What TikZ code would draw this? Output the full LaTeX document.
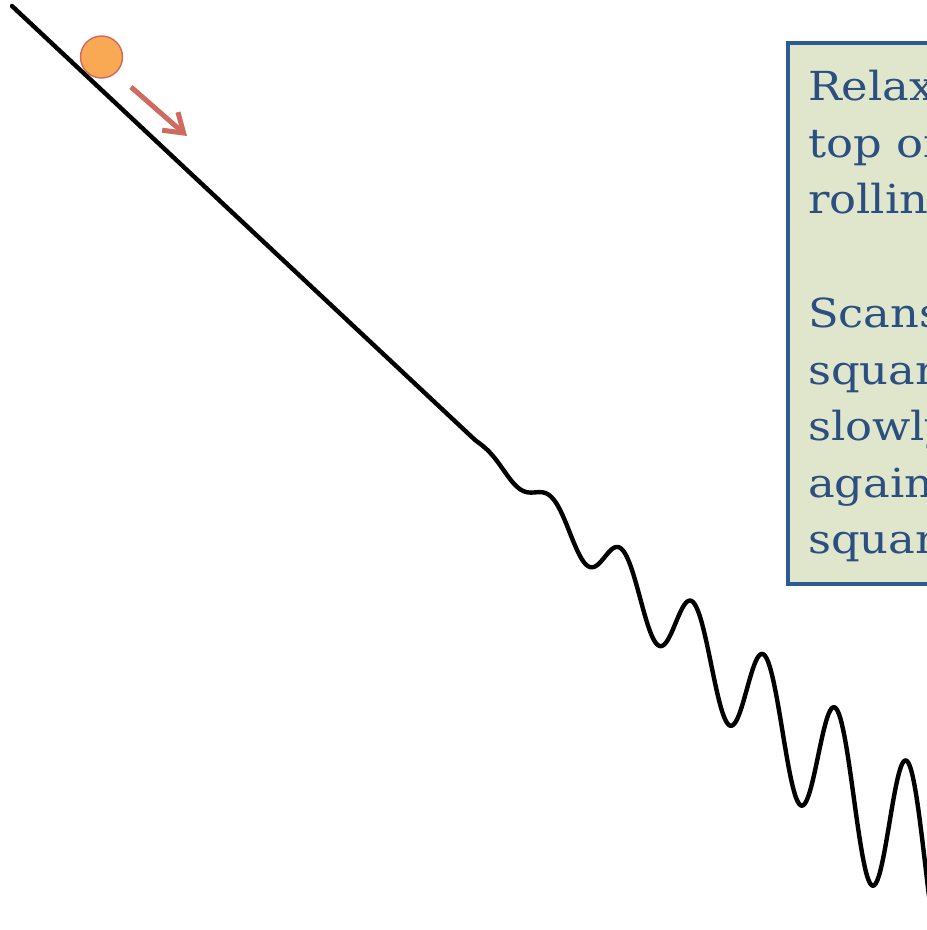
\documentclass[tikz,border=0pt]{standalone}
\usepackage{fontspec}
\setmainfont{DejaVu Serif}[FakeStretch=1.12]
\usetikzlibrary{arrows.meta}
\definecolor{boxfill}{HTML}{DFE6CB}
\definecolor{boxline}{HTML}{2C5B8F}
\definecolor{boxtext}{HTML}{2B4F80}
\definecolor{ballfill}{HTML}{F9A953}
\definecolor{ballline}{HTML}{CC6A5E}
\definecolor{arrowcol}{HTML}{CF6A60}
\tikzset{
  slope/.style={draw=black, line width=4.4pt, line join=round, line cap=round},
  ballnode/.style={circle, fill=ballfill, draw=ballline, line width=1.4pt, minimum size=42pt, inner sep=0pt},
  motion/.style={draw=arrowcol, line width=5pt, -{Straight Barb[length=18pt, width=24pt, line width=5pt]}},
  notebox/.style={fill=boxfill, draw=boxline, line width=4pt, outer sep=0pt},
  noteline/.style={anchor=base west, inner sep=0pt, text=boxtext, font=\fontsize{40}{56}\selectfont}
}
\begin{document}
\begin{tikzpicture}[x=1pt, y=-1pt]
  \useasboundingbox (0,0) rectangle (927,930);
  \clip (0,0) rectangle (927,930);
  % slope with growing ripples
  \coordinate (start) at (12,6);
  \draw[slope] (start) -- plot[domain=475:945, samples=320, smooth]
    (\x, {8+0.933*(\x-12)+0.19*(\x-475)*cos((\x-871)/71.5*360)});
  % ball and motion arrow
  \node[ballnode] (ball) at (101.5,57) {};
  \coordinate (a1) at (131,87);
  \coordinate (a2) at (187,136);
  \draw[motion] (a1) -- (a2);
  % note box
  \node[notebox, anchor=north west, minimum width=200pt, minimum height=541pt, inner sep=0pt] (box) at (788,43) {};
  \node[noteline] (l1) at (808,100) {Relax};
  \node[noteline] (l2) at (808,157) {top of};
  \node[noteline] (l3) at (808,213) {rollin};
  \node[noteline] (l4) at (808,327) {Scans};
  \node[noteline] (l5) at (808,384) {squar};
  \node[noteline] (l6) at (808,440) {slowly};
  \node[noteline] (l7) at (808,497) {again};
  \node[noteline] (l8) at (808,553) {squar};
\end{tikzpicture}
\end{document}
